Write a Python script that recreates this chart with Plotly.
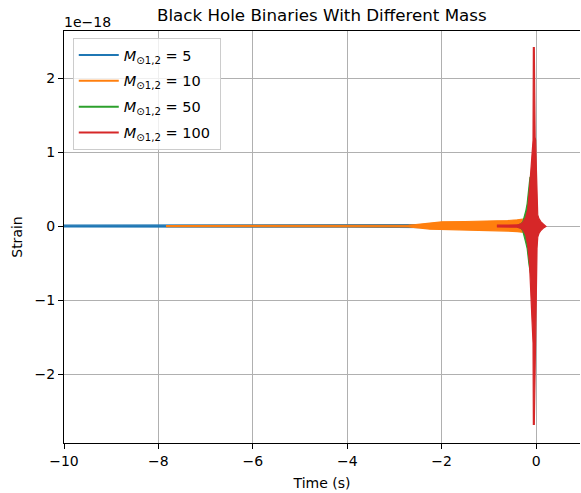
import plotly.graph_objects as go

# Strain envelopes (upper / lower extent of the oscillating waveform), units of 1e-18
BLUE_T = [-10.0, -8.0, -6.0, -4.0, -3.0, -2.0, -1.0, -0.5, -0.3]
BLUE_UP = [0.012, 0.012, 0.013, 0.014, 0.015, 0.02, 0.03, 0.04, 0.04]
BLUE_LO = [-0.012, -0.012, -0.013, -0.014, -0.015, -0.02, -0.03, -0.04, -0.04]

ORANGE_T = [-7.84, -6.0, -4.0, -3.0, -2.7, -2.55, -2.4, -2.25, -2.1, -2.0,
            -1.5, -1.0, -0.6, -0.4, -0.3, -0.2, -0.12]
ORANGE_UP = [0.008, 0.008, 0.009, 0.01, 0.012, 0.02, 0.033, 0.045, 0.055, 0.058,
             0.062, 0.067, 0.075, 0.085, 0.095, 0.1, 0.05]
ORANGE_LO = [-0.008, -0.008, -0.009, -0.01, -0.012, -0.02, -0.03, -0.042, -0.05, -0.054,
             -0.058, -0.062, -0.068, -0.075, -0.08, -0.09, -0.05]

GREEN_T = [-0.4, -0.32, -0.28, -0.25, -0.22, -0.19, -0.17, -0.15, -0.13, -0.11,
           -0.09, -0.07, -0.05, -0.03, 0.0, 0.03]
GREEN_UP = [0.01, 0.03, 0.06, 0.12, 0.2, 0.3, 0.42, 0.55, 0.66, 0.67,
            0.6, 0.4, 0.2, 0.08, 0.03, 0.01]
GREEN_LO = [-0.01, -0.03, -0.07, -0.13, -0.22, -0.3, -0.4, -0.52, -0.6, -0.68,
            -0.73, -0.75, -0.4, -0.1, -0.03, -0.01]

RED_T = [-0.83, -0.6, -0.4, -0.32, -0.27, -0.22, -0.18, -0.14, -0.11, -0.085,
         -0.065, -0.058, -0.038, -0.02, -0.01, 0.005, 0.02, 0.035, 0.06, 0.1, 0.15, 0.21]
RED_UP = [0.012, 0.012, 0.015, 0.03, 0.06, 0.12, 0.22, 0.5, 0.8, 1.0,
          1.16, 2.41, 2.41, 1.2, 1.16, 0.8, 0.3, 0.15, 0.1, 0.06, 0.03, 0.005]
RED_LO = [-0.012, -0.012, -0.015, -0.03, -0.06, -0.12, -0.25, -0.5, -0.9, -1.3,
          -1.58, -2.68, -2.68, -1.58, -1.4, -0.9, -0.3, -0.15, -0.1, -0.06, -0.03, -0.005]

MASSES = ["5", "10", "50", "100"]
COLORS = ["#1f77b4", "#ff7f0e", "#2ca02c", "#d62728"]
SERIES = [(BLUE_T, BLUE_UP, BLUE_LO), (ORANGE_T, ORANGE_UP, ORANGE_LO),
          (GREEN_T, GREEN_UP, GREEN_LO), (RED_T, RED_UP, RED_LO)]

X_TICKS = [-10, -8, -6, -4, -2, 0]
X_TICKTEXT = ["−10", "−8", "−6", "−4", "−2", "0"]
Y_TICKS = [-2, -1, 0, 1, 2]
Y_TICKTEXT = ["−2", "−1", "0", "1", "2"]

FONT = "DejaVu Sans"

fig = go.Figure()

for (t, up, lo), color, mass in zip(SERIES, COLORS, MASSES):
    fig.add_trace(go.Scatter(
        x=list(t) + list(t)[::-1],
        y=list(up) + list(lo)[::-1],
        mode="lines",
        fill="toself",
        fillcolor=color,
        line=dict(color=color, width=1.2),
        showlegend=False,
        legendgroup=mass,
        hoverinfo="skip",
    ))
    fig.add_trace(go.Scatter(
        x=[None], y=[None],
        mode="lines",
        line=dict(color=color, width=2),
        name=f"<i>M</i><sub>⊙1,2</sub> = {mass} ",
        legendgroup=mass,
    ))

fig.update_layout(
    width=581,
    height=493,
    margin=dict(l=64, r=1, t=31, b=50),
    plot_bgcolor="white",
    paper_bgcolor="white",
    font=dict(family=FONT, size=14, color="black"),
    showlegend=True,
    legend=dict(
        x=0.017, y=0.983, xanchor="left", yanchor="top",
        bgcolor="rgba(255,255,255,0.8)",
        bordercolor="#cccccc", borderwidth=1,
        font=dict(family=FONT, size=14.5),
        tracegroupgap=4,
        itemwidth=40,
        traceorder="grouped",
    ),
    annotations=[
        dict(text="Black Hole Binaries With Different Mass", xref="paper", yref="paper",
             x=0.5, y=1, xanchor="center", yanchor="bottom", yshift=4,
             showarrow=False, font=dict(family=FONT, size=16.7)),
        dict(text="1e−18", xref="paper", yref="paper", x=0, y=1,
             xanchor="left", yanchor="bottom", yshift=-1, xshift=-2,
             showarrow=False, font=dict(family=FONT, size=14)),
    ],
)

fig.update_xaxes(
    range=[-10, 0.93],
    tickvals=X_TICKS, ticktext=X_TICKTEXT,
    ticks="outside", ticklen=5, tickcolor="black", tickwidth=1,
    showgrid=True, gridcolor="#b0b0b0", gridwidth=0.8,
    showline=True, linecolor="black", linewidth=1, mirror=True,
    zeroline=False,
    title=dict(text="Time (s)", standoff=10, font=dict(family=FONT, size=14)),
)
fig.update_yaxes(
    range=[-2.93, 2.635],
    tickvals=Y_TICKS, ticktext=Y_TICKTEXT,
    ticks="outside", ticklen=5, tickcolor="black", tickwidth=1,
    showgrid=True, gridcolor="#b0b0b0", gridwidth=0.8,
    showline=True, linecolor="black", linewidth=1, mirror=False,
    zeroline=False,
    title=dict(text="Strain", standoff=8, font=dict(family=FONT, size=14)),
)

fig.write_html("out.html")
